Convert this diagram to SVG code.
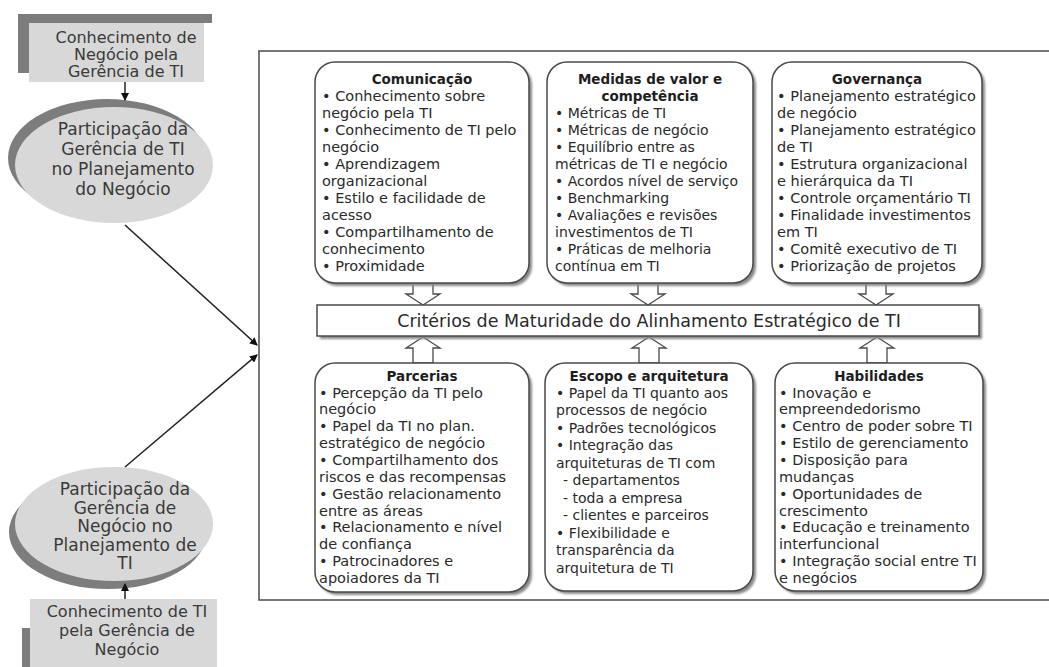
<svg xmlns="http://www.w3.org/2000/svg" width="1049" height="667" viewBox="0 0 1049 667">
<defs>
<style>
.bg{fill:#ffffff}
.frame{fill:none;stroke:#555;stroke-width:1.6}
.box{fill:#ffffff;stroke:#4a4a4a;stroke-width:1.5}
.shd{fill:#8a8a8a;filter:url(#blur)}
.dark{fill:#7d7d7d}
.light{fill:#d8d8d8}
.barrow{fill:#ffffff;stroke:#4a4a4a;stroke-width:1.3}
.conn{stroke:#222;stroke-width:1.5;fill:none}
.t{font-family:"DejaVu Sans",sans-serif;font-size:14.5px;fill:#2a2a2a}
.t14{font-size:14px}
.tt{font-family:"DejaVu Sans",sans-serif;font-size:13.5px;font-weight:bold;fill:#1e1e1e;text-anchor:middle}
.big{font-family:"DejaVu Sans",sans-serif;font-size:17px;fill:#3a3a3a;text-anchor:middle}
.rt{font-family:"DejaVu Sans",sans-serif;font-size:16px;fill:#3a3a3a;text-anchor:middle}
.bar{font-family:"DejaVu Sans",sans-serif;font-size:17.5px;fill:#2a2a2a;text-anchor:middle}
</style>
<filter id="blur" x="-10%" y="-10%" width="120%" height="120%"><feGaussianBlur stdDeviation="1.3"/></filter>
<marker id="ah" markerWidth="8" markerHeight="8" refX="7" refY="4" orient="auto" markerUnits="userSpaceOnUse"><path d="M0,0 L8,4 L0,8 Z" fill="#111"/></marker>
</defs>
<rect class="bg" x="0" y="0" width="1049" height="667"/>

<g id="frame"><rect class="frame" x="259" y="51" width="820" height="549"/></g>

<g id="knowBiz">
<path class="dark" d="M18,14 H212 V23 H29 V73 H18 Z"/>
<rect class="light" x="29" y="23" width="175" height="59"/>
<text class="rt"><tspan x="126" y="43">Conhecimento de</tspan><tspan x="126" y="60">Negócio pela</tspan><tspan x="126" y="77">Gerência de TI</tspan></text>
</g>

<g id="partIT">
<ellipse class="dark" cx="107" cy="158" rx="99" ry="59"/>
<ellipse class="light" cx="114" cy="165" rx="99" ry="58"/>
<text class="big"><tspan x="123" y="135">Participação da</tspan><tspan x="123" y="155">Gerência de TI</tspan><tspan x="123" y="175">no Planejamento</tspan><tspan x="123" y="195">do Negócio</tspan></text>
</g>

<g id="partBiz">
<ellipse class="dark" cx="108" cy="532" rx="99" ry="57"/>
<ellipse class="light" cx="114" cy="524" rx="99" ry="57"/>
<text class="big"><tspan x="125" y="495">Participação da</tspan><tspan x="125" y="513.5">Gerência de</tspan><tspan x="125" y="532">Negócio no</tspan><tspan x="125" y="550.5">Planejamento de</tspan><tspan x="125" y="569">TI</tspan></text>
</g>

<g id="knowIT">
<rect class="dark" x="22" y="628" width="8" height="39"/>
<rect class="light" x="30" y="599" width="187" height="68"/>
<text class="rt"><tspan x="127" y="617">Conhecimento de TI</tspan><tspan x="127" y="636">pela Gerência de</tspan><tspan x="127" y="655">Negócio</tspan></text>
</g>

<g id="connectors">
<line class="conn" x1="125" y1="82" x2="125" y2="100" marker-end="url(#ah)"/>
<line class="conn" x1="125" y1="599" x2="125" y2="584" marker-end="url(#ah)"/>
<line class="conn" x1="125" y1="225" x2="257" y2="345" marker-end="url(#ah)"/>
<line class="conn" x1="125" y1="467" x2="257" y2="355" marker-end="url(#ah)"/>
<polygon class="barrow" points="413,283 413,294 406,294 423,305 440,294 433,294 433,283"/>
<polygon class="barrow" points="638,283 638,294 631,294 648,305 665,294 658,294 658,283"/>
<polygon class="barrow" points="866,283 866,294 859,294 876,305 893,294 886,294 886,283"/>
<polygon class="barrow" points="413,363 413,348 406,348 423,337 440,348 433,348 433,363"/>
<polygon class="barrow" points="639,363 639,348 632,348 649,337 666,348 659,348 659,363"/>
<polygon class="barrow" points="867,363 867,348 860,348 877,337 894,348 887,348 887,363"/>
</g>

<g id="criterios">
<rect class="shd" x="320" y="308" width="662" height="31"/>
<rect class="box" x="317" y="305" width="662" height="31"/>
<text class="bar" x="649" y="327">Critérios de Maturidade do Alinhamento Estratégico de TI</text>
</g>

<g id="comunicacao">
<rect class="shd" x="318" y="65" width="214" height="221" rx="20"/>
<rect class="box" x="315" y="62" width="214" height="221" rx="20"/>
<text class="tt" x="422" y="84">Comunicação</text>
<text class="t"><tspan x="322" y="101">• Conhecimento sobre</tspan><tspan x="322" y="118">negócio pela TI</tspan><tspan x="322" y="135">• Conhecimento de TI pelo</tspan><tspan x="322" y="152">negócio</tspan><tspan x="322" y="169">• Aprendizagem</tspan><tspan x="322" y="186">organizacional</tspan><tspan x="322" y="203">• Estilo e facilidade de</tspan><tspan x="322" y="220">acesso</tspan><tspan x="322" y="237">• Compartilhamento de</tspan><tspan x="322" y="254">conhecimento</tspan><tspan x="322" y="271">• Proximidade</tspan></text>
</g>

<g id="medidas">
<rect class="shd" x="550" y="65" width="206" height="221" rx="20"/>
<rect class="box" x="547" y="62" width="206" height="221" rx="20"/>
<text class="tt"><tspan x="650" y="84">Medidas de valor e</tspan><tspan x="650" y="101">competência</tspan></text>
<text class="t t14"><tspan x="555" y="118">• Métricas de TI</tspan><tspan x="555" y="135">• Métricas de negócio</tspan><tspan x="555" y="152">• Equilíbrio entre as</tspan><tspan x="555" y="169">métricas de TI e negócio</tspan><tspan x="555" y="186">• Acordos nível de serviço</tspan><tspan x="555" y="203">• Benchmarking</tspan><tspan x="555" y="220">• Avaliações e revisões</tspan><tspan x="555" y="237">investimentos de TI</tspan><tspan x="555" y="254">• Práticas de melhoria</tspan><tspan x="555" y="271">contínua em TI</tspan></text>
</g>

<g id="governanca">
<rect class="shd" x="775" y="65" width="210" height="221" rx="20"/>
<rect class="box" x="772" y="62" width="210" height="221" rx="20"/>
<text class="tt" x="877" y="84">Governança</text>
<text class="t"><tspan x="777" y="101">• Planejamento estratégico</tspan><tspan x="777" y="118">de negócio</tspan><tspan x="777" y="135">• Planejamento estratégico</tspan><tspan x="777" y="152">de TI</tspan><tspan x="777" y="169">• Estrutura organizacional</tspan><tspan x="777" y="186">e hierárquica da TI</tspan><tspan x="777" y="203">• Controle orçamentário TI</tspan><tspan x="777" y="220">• Finalidade investimentos</tspan><tspan x="777" y="237">em TI</tspan><tspan x="777" y="254">• Comitê executivo de TI</tspan><tspan x="777" y="271">• Priorização de projetos</tspan></text>
</g>

<g id="parcerias">
<rect class="shd" x="318" y="366" width="214" height="229" rx="20"/>
<rect class="box" x="315" y="363" width="214" height="229" rx="20"/>
<text class="tt" x="422" y="380.5">Parcerias</text>
<text class="t"><tspan x="319" y="397.5">• Percepção da TI pelo</tspan><tspan x="319" y="414.4">negócio</tspan><tspan x="319" y="431.2">• Papel da TI no plan.</tspan><tspan x="319" y="448">estratégico de negócio</tspan><tspan x="319" y="464.9">• Compartilhamento dos</tspan><tspan x="319" y="481.8">riscos e das recompensas</tspan><tspan x="319" y="498.6">• Gestão relacionamento</tspan><tspan x="319" y="515.5">entre as áreas</tspan><tspan x="319" y="532.3">• Relacionamento e nível</tspan><tspan x="319" y="549.2">de confiança</tspan><tspan x="319" y="566">• Patrocinadores e</tspan><tspan x="319" y="582.9">apoiadores da TI</tspan></text>
</g>

<g id="escopo">
<rect class="shd" x="548" y="366" width="208" height="228" rx="20"/>
<rect class="box" x="545" y="363" width="208" height="228" rx="20"/>
<text class="tt" x="649" y="380.5">Escopo e arquitetura</text>
<text class="t t14"><tspan x="556" y="397.5">• Papel da TI quanto aos</tspan><tspan x="556" y="415">processos de negócio</tspan><tspan x="556" y="432.5">• Padrões tecnológicos</tspan><tspan x="556" y="450">• Integração das</tspan><tspan x="556" y="467.5">arquiteturas de TI com</tspan><tspan x="563" y="485">- departamentos</tspan><tspan x="563" y="502.5">- toda a empresa</tspan><tspan x="563" y="520">- clientes e parceiros</tspan><tspan x="556" y="537.5">• Flexibilidade e</tspan><tspan x="556" y="555">transparência da</tspan><tspan x="556" y="572.5">arquitetura de TI</tspan></text>
</g>

<g id="habilidades">
<rect class="shd" x="778" y="366" width="208" height="228" rx="20"/>
<rect class="box" x="775" y="363" width="208" height="228" rx="20"/>
<text class="tt" x="879" y="380.5">Habilidades</text>
<text class="t"><tspan x="779" y="397.5">• Inovação e</tspan><tspan x="779" y="414.4">empreendedorismo</tspan><tspan x="779" y="431.2">• Centro de poder sobre TI</tspan><tspan x="779" y="448">• Estilo de gerenciamento</tspan><tspan x="779" y="464.9">• Disposição para</tspan><tspan x="779" y="481.8">mudanças</tspan><tspan x="779" y="498.6">• Oportunidades de</tspan><tspan x="779" y="515.5">crescimento</tspan><tspan x="779" y="532.3">• Educação e treinamento</tspan><tspan x="779" y="549.2">interfuncional</tspan><tspan x="779" y="566">• Integração social entre TI</tspan><tspan x="779" y="582.9">e negócios</tspan></text>
</g>
</svg>
